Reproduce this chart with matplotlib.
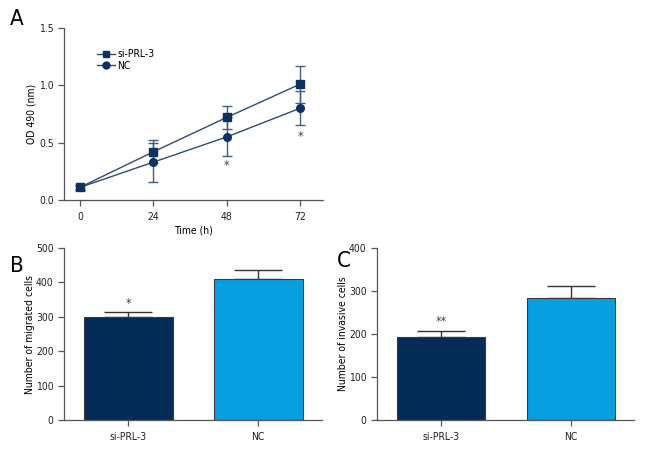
import matplotlib
matplotlib.use("Agg")
import matplotlib.pyplot as plt
from matplotlib.lines import Line2D

plt.rcParams['font.family'] = ['DejaVu Sans']
plt.rcParams['font.stretch'] = 'condensed'

# Panel A data
time_h = [0, 24, 48, 72]
si_od = [0.11, 0.42, 0.72, 1.01]
si_err = [0.02, 0.10, 0.10, 0.16]
nc_od = [0.11, 0.33, 0.55, 0.80]
nc_err = [0.02, 0.17, 0.17, 0.15]
stars_a = {48: ("*", 0.30), 72: ("*", 0.55)}

# Panel B data
groups = ["si-PRL-3", "NC"]
migrated = [300, 411]
migrated_err = [15, 25]

# Panel C data
invasive = [194, 284]
invasive_err = [13, 28]

NAVY = "#0B3260"
LINE = "#2E4D70"
ELINE = "#3F5F82"
DARK = "#052C57"
LIGHT = "#079FE0"
GREY = "#444444"

fig = plt.figure(figsize=(6.6, 4.68), dpi=100)
W, H = 660, 468

def ax_px(l, r, t, b):
    return fig.add_axes([l / W, 1 - b / H, (r - l) / W, (b - t) / H])

def style(ax):
    for s in ["top", "right"]:
        ax.spines[s].set_visible(False)
    for s in ["left", "bottom"]:
        ax.spines[s].set_color("#555555")
        ax.spines[s].set_linewidth(0.9)
    ax.tick_params(colors="#555555", labelcolor="#222222", labelsize=7.5, length=4, width=0.9)
    ax.tick_params(axis="x", pad=5)

# Panel A
axA = ax_px(64, 323, 28, 200)
style(axA)
axA.errorbar(time_h, si_od, yerr=si_err, color=LINE, ecolor=ELINE, lw=1.0, elinewidth=1.0,
             capsize=3.8, capthick=1.0, marker="s", ms=5.5, mfc=NAVY, mec=NAVY, zorder=3)
axA.errorbar(time_h, nc_od, yerr=nc_err, color=LINE, ecolor=ELINE, lw=1.0, elinewidth=1.0,
             capsize=3.8, capthick=1.0, marker="o", ms=5.5, mfc=NAVY, mec=NAVY, zorder=3)
for x, (s, y) in stars_a.items():
    axA.text(x, y, s, ha="center", va="center", fontsize=9, color=GREY)
axA.set_xlim(-5.2, 79.5)
axA.set_ylim(0, 1.5)
axA.set_xticks(time_h)
axA.set_yticks([0.0, 0.5, 1.0, 1.5])
axA.set_yticklabels(["0.0", "0.5", "1.0", "1.5"])
axA.set_xlabel("Time (h)", fontsize=7.5, labelpad=2)
axA.set_ylabel("OD 490 (nm)", fontsize=7.5, labelpad=2)
handles = [Line2D([], [], color=LINE, lw=1.0, marker="s", ms=5, mfc=NAVY, mec=NAVY),
           Line2D([], [], color=LINE, lw=1.0, marker="o", ms=5, mfc=NAVY, mec=NAVY)]
axA.legend(handles, ["si-PRL-3", "NC"], loc="upper left", bbox_to_anchor=(0.11, 0.9),
           frameon=False, fontsize=7.5, handlelength=1.8, handletextpad=0.2,
           labelspacing=0.15, borderaxespad=0)

def bars(ax, vals, errs, star, star_y, ymax, step):
    style(ax)
    x = list(range(len(groups)))
    ax.bar(x, vals, width=0.68, color=[DARK, LIGHT], edgecolor="#3a3a3a", linewidth=0.8, zorder=2)
    ax.errorbar(x, vals, yerr=[[0] * len(errs), errs], fmt="none", ecolor="#333333",
                elinewidth=1.0, capsize=17, capthick=1.0, zorder=1)
    ax.text(0, star_y, star, ha="center", va="center", fontsize=9, color=GREY)
    ax.set_xlim(-0.495, 1.49)
    ax.set_ylim(0, ymax)
    ax.set_yticks(range(0, ymax + 1, step))
    ax.set_xticks(x)
    ax.set_xticklabels(groups)

axB = ax_px(64, 322, 248, 420)
bars(axB, migrated, migrated_err, "*", 340, 500, 100)
axB.set_ylabel("Number of migrated cells", fontsize=7.5, labelpad=1)

axC = ax_px(377, 634, 248, 420)
bars(axC, invasive, invasive_err, "**", 228, 400, 100)
axC.set_ylabel("Number of invasive cells", fontsize=7.5, labelpad=1)

fig.text(10 / W, 1 - 19 / H, "A", fontsize=16, ha="left", va="center")
fig.text(10 / W, 1 - 266 / H, "B", fontsize=16, ha="left", va="center")
fig.text(337 / W, 1 - 261 / H, "C", fontsize=16, ha="left", va="center")

fig.savefig("out.png", dpi=100)
